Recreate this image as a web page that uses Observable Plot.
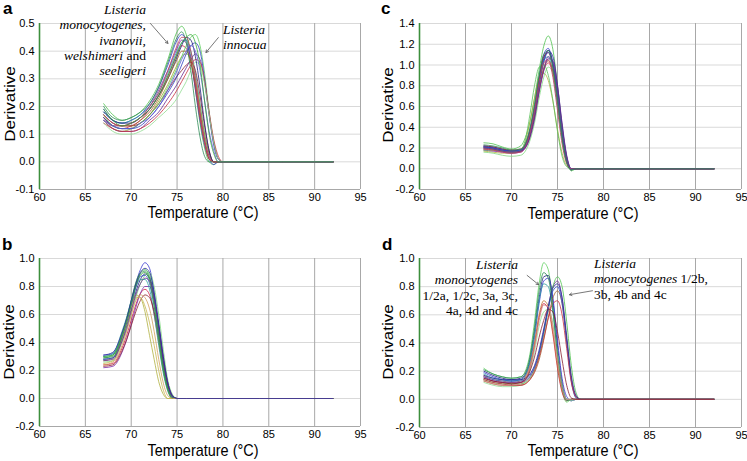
<!DOCTYPE html>
<html><head><meta charset="utf-8">
<script src="https://cdn.jsdelivr.net/npm/d3@7"></script>
<script src="https://cdn.jsdelivr.net/npm/@observablehq/plot@0.6"></script>
<style>
body{margin:0;background:#fff}
#fig{position:relative;width:747px;height:461px;overflow:hidden;font-family:'Liberation Sans',Arial,sans-serif;color:#000}
.panel{position:absolute}
.plet{position:absolute;font-weight:bold;font-size:17px;line-height:1}
.xt{position:absolute;font-size:17px;white-space:nowrap;transform:translate(-50%,-50%) scaleX(0.85)}
.yt{position:absolute;font-size:17px;white-space:nowrap;transform:translate(-50%,-50%) rotate(-90deg) scaleY(0.9)}
.ann{position:absolute;font-family:'Liberation Serif','Times New Roman',serif;font-size:13.5px;line-height:15.3px;white-space:nowrap}
</style>
</head><body>
<div id="fig"></div>
<script>
// ---------- data ----------
const xTicks = [60, 65, 70, 75, 80, 85, 90, 95];

// Panel a
const tempsA = [67, 68, 69, 70, 71, 72, 73, 74, 75, 75.5, 76, 76.5, 77, 77.5, 78, 78.5, 79, 79.5, 80, 81, 92];
const curvesA = [
  [0.21,0.17,0.15,0.16,0.18,0.22,0.28,0.37,0.47,0.49,0.46,0.38,0.26,0.14,0.05,0.00,-0.01,0,0,0,0],
  [0.19,0.15,0.14,0.15,0.17,0.21,0.27,0.35,0.44,0.46,0.44,0.37,0.26,0.15,0.06,0.01,-0.01,0,0,0,0],
  [0.16,0.13,0.12,0.13,0.15,0.19,0.24,0.31,0.39,0.42,0.41,0.36,0.27,0.16,0.07,0.01,0,0,0,0,0],
  [0.17,0.14,0.13,0.14,0.16,0.20,0.26,0.33,0.41,0.44,0.43,0.37,0.28,0.18,0.08,0.02,0,0,0,0,0],
  [0.18,0.15,0.14,0.15,0.17,0.20,0.25,0.32,0.40,0.43,0.44,0.40,0.32,0.21,0.10,0.03,0,0,0,0,0],
  [0.15,0.12,0.11,0.12,0.14,0.17,0.22,0.28,0.35,0.38,0.39,0.37,0.30,0.20,0.10,0.03,0,0,0,0,0],
  [0.16,0.13,0.13,0.13,0.14,0.17,0.21,0.26,0.31,0.33,0.35,0.36,0.33,0.24,0.13,0.04,0,0,0,0,0],
  [0.17,0.13,0.12,0.12,0.14,0.17,0.21,0.27,0.34,0.38,0.42,0.45,0.46,0.42,0.32,0.18,0.07,0.01,0,0,0],
  [0.16,0.13,0.12,0.12,0.13,0.16,0.20,0.25,0.31,0.35,0.39,0.42,0.43,0.40,0.30,0.17,0.06,0.01,0,0,0],
  [0.15,0.12,0.11,0.11,0.12,0.15,0.18,0.23,0.28,0.31,0.34,0.37,0.39,0.37,0.29,0.17,0.07,0.01,0,0,0],
  [0.14,0.12,0.11,0.11,0.12,0.14,0.17,0.21,0.26,0.29,0.32,0.35,0.37,0.36,0.29,0.18,0.08,0.02,0,0,0],
  [0.14,0.11,0.10,0.10,0.11,0.13,0.16,0.19,0.23,0.26,0.29,0.33,0.36,0.35,0.28,0.17,0.07,0.01,0,0,0],
  [0.18,0.15,0.14,0.14,0.16,0.19,0.24,0.30,0.38,0.42,0.45,0.44,0.38,0.27,0.14,0.04,0,0,0,0,0],
  [0.17,0.14,0.13,0.13,0.15,0.18,0.23,0.30,0.37,0.40,0.40,0.36,0.28,0.17,0.07,0.01,0,0,0,0,0],
  [0.20,0.16,0.15,0.16,0.18,0.21,0.27,0.36,0.45,0.47,0.43,0.33,0.20,0.09,0.02,0,0,0,0,0,0],
  [0.17,0.14,0.13,0.14,0.16,0.20,0.25,0.33,0.42,0.45,0.45,0.40,0.30,0.18,0.08,0.02,0,0,0,0,0],
  [0.15,0.13,0.12,0.12,0.14,0.16,0.20,0.26,0.33,0.37,0.40,0.42,0.40,0.33,0.22,0.11,0.04,0,0,0,0],
  [0.19,0.15,0.13,0.14,0.16,0.19,0.24,0.31,0.39,0.43,0.45,0.46,0.43,0.35,0.22,0.10,0.03,0,0,0,0]
];
const colorsA = ["#4cc24c","#3a3ad0","#d02040","#7a2aa8","#2a9d9d","#9aa62a","#8a2030","#5ccf5c","#3040c0","#6a2a90","#c83040","#90dc90","#1e1e78","#a0602d","#2e8b57","#c04060","#5a5ad8","#38a838"];
const yTicksA = [-0.1, 0, 0.1, 0.2, 0.3, 0.4, 0.5];

// Panel b
const tempsB = [67, 68, 69, 69.5, 70, 70.5, 71, 71.5, 72, 72.5, 73, 73.5, 74, 74.5, 75, 76, 92];
const curvesB = [
  [0.31,0.32,0.45,0.55,0.68,0.82,0.92,0.97,0.93,0.75,0.50,0.25,0.08,0.01,0,0,0],
  [0.29,0.31,0.45,0.56,0.70,0.83,0.90,0.92,0.88,0.72,0.48,0.24,0.08,0.01,0,0,0],
  [0.28,0.29,0.42,0.52,0.64,0.76,0.85,0.89,0.86,0.72,0.50,0.27,0.10,0.02,0,0,0],
  [0.24,0.25,0.36,0.45,0.56,0.67,0.75,0.78,0.74,0.60,0.40,0.20,0.06,0,0,0,0],
  [0.22,0.23,0.33,0.42,0.53,0.65,0.75,0.80,0.80,0.70,0.52,0.30,0.11,0.02,0,0,0],
  [0.27,0.29,0.44,0.54,0.66,0.74,0.72,0.62,0.45,0.28,0.12,0.03,0,0,0,0,0],
  [0.30,0.32,0.48,0.58,0.70,0.80,0.85,0.85,0.78,0.60,0.38,0.18,0.05,0,0,0,0],
  [0.26,0.27,0.40,0.49,0.60,0.72,0.82,0.88,0.90,0.80,0.60,0.35,0.13,0.03,0,0,0],
  [0.23,0.24,0.34,0.42,0.52,0.62,0.70,0.74,0.72,0.62,0.45,0.25,0.09,0.01,0,0,0],
  [0.28,0.29,0.43,0.53,0.66,0.79,0.87,0.88,0.82,0.66,0.44,0.22,0.07,0.01,0,0,0],
  [0.25,0.27,0.42,0.53,0.65,0.72,0.72,0.66,0.54,0.38,0.20,0.06,0,0,0,0,0],
  [0.29,0.30,0.44,0.54,0.67,0.80,0.89,0.91,0.86,0.70,0.47,0.23,0.07,0.01,0,0,0],
  [0.30,0.31,0.46,0.57,0.69,0.81,0.88,0.90,0.84,0.66,0.42,0.20,0.06,0,0,0,0],
  [0.27,0.28,0.41,0.50,0.62,0.74,0.82,0.86,0.84,0.72,0.52,0.29,0.11,0.02,0,0,0],
  [0.24,0.26,0.38,0.48,0.60,0.70,0.74,0.72,0.64,0.48,0.28,0.11,0.02,0,0,0,0],
  [0.31,0.33,0.47,0.57,0.70,0.82,0.90,0.93,0.90,0.76,0.54,0.30,0.11,0.02,0,0,0]
];
const colorsB = ["#3a3ad0","#4cc24c","#1e1e78","#d02040","#7a2aa8","#b0b040","#2a9d9d","#80d880","#8a2030","#3050c8","#c8b850","#2e8b57","#38a838","#6a2a90","#d0a060","#2a2a9a"];
const yTicksB = [-0.2, 0, 0.2, 0.4, 0.6, 0.8, 1.0];

// Panel c
const tempsC = [67, 68, 69, 70, 71, 71.5, 72, 72.5, 73, 73.5, 74, 74.5, 75, 75.5, 76, 76.5, 77, 78, 92];
const curvesC = [
  [0.25,0.24,0.21,0.19,0.22,0.30,0.45,0.68,0.95,1.18,1.28,1.15,0.80,0.40,0.10,-0.02,0,0,0],
  [0.22,0.21,0.19,0.17,0.18,0.24,0.38,0.60,0.88,1.10,1.16,1.00,0.68,0.32,0.07,-0.01,0,0,0],
  [0.21,0.20,0.18,0.17,0.18,0.22,0.35,0.56,0.84,1.06,1.14,1.02,0.72,0.36,0.09,-0.01,0,0,0],
  [0.19,0.18,0.17,0.16,0.17,0.21,0.32,0.50,0.75,0.95,1.02,0.92,0.64,0.31,0.07,-0.01,0,0,0],
  [0.17,0.16,0.15,0.15,0.17,0.26,0.45,0.68,0.88,0.92,0.85,0.65,0.38,0.15,0.03,0,0,0,0],
  [0.20,0.19,0.17,0.16,0.17,0.23,0.37,0.60,0.88,1.05,1.08,0.92,0.60,0.27,0.06,-0.01,0,0,0],
  [0.18,0.17,0.16,0.15,0.16,0.20,0.30,0.48,0.74,0.96,1.08,1.02,0.76,0.40,0.11,0,0,0,0],
  [0.16,0.15,0.13,0.12,0.13,0.17,0.27,0.44,0.68,0.88,0.98,0.92,0.70,0.38,0.11,-0.02,0,0,0],
  [0.21,0.20,0.18,0.17,0.18,0.21,0.32,0.52,0.80,1.02,1.14,1.08,0.80,0.42,0.12,0,0,0,0],
  [0.20,0.19,0.17,0.16,0.17,0.21,0.33,0.52,0.78,0.97,1.04,0.94,0.66,0.32,0.08,0,0,0,0],
  [0.18,0.18,0.17,0.16,0.18,0.28,0.52,0.80,0.98,1.00,0.90,0.66,0.36,0.12,0.02,0,0,0,0],
  [0.22,0.21,0.19,0.18,0.19,0.23,0.36,0.58,0.86,1.08,1.12,0.98,0.70,0.34,0.08,-0.01,0,0,0],
  [0.21,0.20,0.18,0.17,0.18,0.22,0.34,0.55,0.82,1.04,1.12,1.00,0.70,0.34,0.08,-0.01,0,0,0],
  [0.19,0.18,0.16,0.15,0.16,0.21,0.34,0.56,0.84,1.02,1.05,0.88,0.56,0.24,0.05,0,0,0,0],
  [0.20,0.19,0.17,0.16,0.17,0.20,0.30,0.48,0.74,0.94,1.06,1.04,0.80,0.44,0.13,0,0,0,0],
  [0.23,0.22,0.20,0.18,0.19,0.24,0.39,0.62,0.90,1.10,1.14,0.98,0.66,0.30,0.06,-0.01,0,0,0]
];
const colorsC = ["#4cc24c","#3a3ad0","#1e1e78","#d02040","#b0b040","#2a9d9d","#7a2aa8","#80d880","#2a2a9a","#a0602d","#5cc05c","#8a2030","#3050c8","#c04060","#6a2a90","#2e8b57"];
const yTicksC = [-0.2, 0, 0.2, 0.4, 0.6, 0.8, 1.0, 1.2, 1.4];

// Panel d
const tempsD = [67, 68, 69, 70, 71, 71.5, 72, 72.5, 73, 73.5, 74, 74.5, 75, 75.5, 76, 76.5, 77, 77.5, 78, 92];
const curvesD = [
  [0.22,0.18,0.16,0.15,0.16,0.20,0.32,0.55,0.82,0.97,0.92,0.65,0.30,0.07,-0.02,0,0,0,0,0],
  [0.20,0.17,0.15,0.14,0.15,0.18,0.28,0.48,0.72,0.87,0.88,0.70,0.38,0.12,0,-0.01,0,0,0,0],
  [0.19,0.16,0.14,0.13,0.14,0.17,0.26,0.44,0.68,0.84,0.86,0.72,0.42,0.15,0.02,-0.01,0,0,0,0],
  [0.16,0.13,0.12,0.11,0.12,0.15,0.22,0.38,0.58,0.68,0.64,0.46,0.22,0.05,-0.01,0,0,0,0,0],
  [0.17,0.14,0.13,0.12,0.13,0.16,0.24,0.40,0.60,0.70,0.66,0.48,0.24,0.06,0,0,0,0,0,0],
  [0.18,0.15,0.14,0.13,0.14,0.17,0.27,0.46,0.70,0.82,0.80,0.62,0.32,0.09,0,0,0,0,0,0],
  [0.12,0.10,0.09,0.09,0.10,0.13,0.20,0.34,0.52,0.62,0.64,0.54,0.32,0.10,0,-0.01,0,0,0,0],
  [0.15,0.13,0.12,0.12,0.12,0.13,0.16,0.22,0.32,0.48,0.66,0.80,0.84,0.72,0.42,0.14,0.02,0,0,0],
  [0.14,0.12,0.11,0.11,0.11,0.12,0.15,0.21,0.31,0.46,0.64,0.80,0.87,0.80,0.55,0.24,0.05,0,0,0],
  [0.13,0.11,0.10,0.10,0.10,0.11,0.14,0.19,0.28,0.42,0.58,0.72,0.77,0.68,0.42,0.15,0.02,0,0,0],
  [0.16,0.14,0.13,0.13,0.13,0.14,0.17,0.23,0.33,0.48,0.64,0.77,0.80,0.68,0.40,0.13,0.01,0,0,0],
  [0.14,0.12,0.11,0.10,0.10,0.11,0.14,0.20,0.30,0.43,0.58,0.68,0.70,0.60,0.36,0.12,0.02,0,0,0],
  [0.21,0.18,0.16,0.15,0.16,0.19,0.30,0.51,0.77,0.90,0.86,0.64,0.32,0.09,-0.01,0,0,0,0,0],
  [0.17,0.15,0.14,0.14,0.14,0.15,0.18,0.24,0.35,0.50,0.66,0.79,0.82,0.72,0.45,0.17,0.03,0,0,0],
  [0.13,0.11,0.10,0.10,0.11,0.14,0.22,0.37,0.56,0.67,0.66,0.52,0.28,0.08,0,0,0,0,0,0],
  [0.15,0.13,0.12,0.11,0.12,0.14,0.20,0.30,0.44,0.56,0.64,0.62,0.48,0.28,0.10,0.01,0,0,0,0]
];
const colorsD = ["#5ccf5c","#1e1e78","#3a3ad0","#d02040","#c07030","#2a9d9d","#90dc90","#6a2a90","#4cc24c","#a0602d","#3050c8","#c83040","#2e8b57","#2a2a9a","#d08080","#8a2030"];
const yTicksD = [-0.2, 0, 0.2, 0.4, 0.6, 0.8, 1.0];

// annotation arrows (data coordinates)
const arrowsA = [
  {x1: 72.1, y1: 0.50, x2: 74.0, y2: 0.428},
  {x1: 79.5, y1: 0.449, x2: 78.15, y2: 0.395}
];
const arrowsD = [
  {x1: 71.7, y1: 0.88, x2: 72.95, y2: 0.814},
  {x1: 78.8, y1: 0.771, x2: 76.3, y2: 0.743}
];

// ---------- drawing ----------
function panel(temps, curves, colors, yTicks, arrows, size) {
  const rows = [];
  curves.forEach((vals, k) => vals.forEach((v, j) => rows.push({t: temps[j], v, k, c: colors[k]})));
  const yDom = [yTicks[0], yTicks[yTicks.length - 1]];
  return Plot.plot({
    width: size.w, height: size.h,
    marginLeft: size.ml, marginRight: size.mr, marginTop: size.mt, marginBottom: size.mb,
    style: {fontFamily: "'Liberation Sans Narrow','Liberation Sans',Arial,sans-serif", fontSize: "11px", color: "#000", background: "transparent"},
    x: {domain: [60, 95], ticks: xTicks, tickSize: 0, tickPadding: 4, label: null},
    y: {domain: yDom, ticks: yTicks, tickSize: 0, tickPadding: 5, label: null, tickFormat: d => d.toFixed(1)},
    color: {type: "identity"},
    marks: [
      Plot.gridY(yTicks, {stroke: "#d9d9d9", strokeOpacity: 1}),
      Plot.gridX(xTicks, {stroke: "#a8a8a8", strokeOpacity: 1}),
      Plot.ruleY([yDom[0]], {stroke: "#a8a8a8"}),
      Plot.line(rows, {x: "t", y: "v", z: "k", stroke: "c", curve: "monotone-x", strokeWidth: 0.8}),
      Plot.ruleX([60], {stroke: "#3d8f3d", strokeWidth: 1.6}),
      Plot.arrow(arrows, {x1: "x1", y1: "y1", x2: "x2", y2: "y2", stroke: "#555", strokeWidth: 0.8, headLength: 5})
    ]
  });
}

const fig = document.getElementById("fig");
function place(el, left, top) {
  el.classList.add("panel");
  el.style.left = left + "px"; el.style.top = top + "px";
  fig.appendChild(el);
}
place(panel(tempsA, curvesA, colorsA, yTicksA, arrowsA, {w: 370, h: 230, ml: 39, mr: 10, mt: 23, mb: 41}), 0, 0);
place(panel(tempsC, curvesC, colorsC, yTicksC, [], {w: 377, h: 230, ml: 49, mr: 6, mt: 23, mb: 41}), 370, 0);
place(panel(tempsB, curvesB, colorsB, yTicksB, [], {w: 370, h: 231, ml: 39, mr: 10, mt: 28, mb: 35}), 0, 230);
place(panel(tempsD, curvesD, colorsD, yTicksD, arrowsD, {w: 377, h: 231, ml: 49, mr: 6, mt: 28, mb: 34}), 370, 230);

function html(cls, left, top, content) {
  const d = document.createElement("div");
  d.className = cls; d.style.left = left + "px"; d.style.top = top + "px";
  d.innerHTML = content; fig.appendChild(d); return d;
}
// panel letters
html("plet", 3, 0, "a");
html("plet", 381, 0, "c");
html("plet", 2, 236, "b");
html("plet", 382, 236, "d");
// axis titles
html("xt", 203, 213, "Temperature (°C)");
html("xt", 583, 214, "Temperature (°C)");
html("xt", 203, 451, "Temperature (°C)");
html("xt", 583, 451, "Temperature (°C)");
html("yt", 10, 104, "Derivative");
html("yt", 388, 105, "Derivative");
html("yt", 9, 342, "Derivative");
html("yt", 388, 342, "Derivative");
// annotations
const a1 = html("ann", 46, 2, "<i>Listeria</i><br><i>monocytogenes,</i><br><i>ivanovii,</i><br><i>welshimeri</i> and<br><i>seeligeri</i>");
a1.style.width = "100px"; a1.style.textAlign = "right";
html("ann", 223, 22, "<i>Listeria</i><br><i>innocua</i>");
const d1 = html("ann", 398, 257, "<i>Listeria</i><br><i>monocytogenes</i><br>1/2a, 1/2c, 3a, 3c,<br>4a, 4d and 4c");
d1.style.width = "120px"; d1.style.textAlign = "right";
html("ann", 594, 256, "<i>Listeria</i><br><i>monocytogenes</i> 1/2b,<br>3b, 4b and 4c");
</script>
</body></html>
